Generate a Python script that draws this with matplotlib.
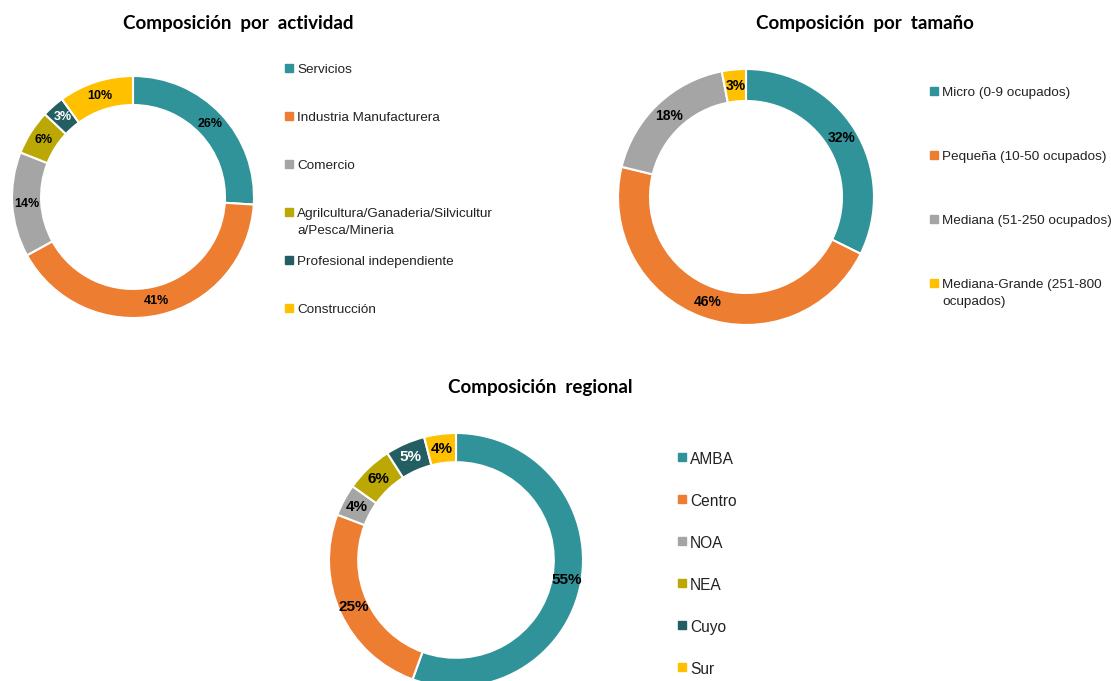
import numpy as np
import matplotlib
matplotlib.use("Agg")
import matplotlib.pyplot as plt
from matplotlib.lines import Line2D

# colours used by the three charts
teal = "#31939A"
orange = "#ED7D31"
gray = "#A5A5A5"
olive = "#BBA805"
dark_teal = "#235E62"
yellow = "#FFC000"

# composición por actividad
act_labels = ["Servicios", "Industria Manufacturera", "Comercio",
              "Agrilcultura/Ganaderia/Silvicultur\na/Pesca/Mineria",
              "Profesional independiente", "Construcción"]
act_values = [26, 41, 14, 6, 3, 10]
act_colors = [teal, orange, gray, olive, dark_teal, yellow]

# composición por tamaño
size_labels = ["Micro (0-9 ocupados)", "Pequeña (10-50 ocupados)",
               "Mediana (51-250 ocupados)", "Mediana-Grande (251-800\nocupados)"]
size_values = [32, 46, 18, 3]
size_colors = [teal, orange, gray, yellow]

# composición regional
reg_labels = ["AMBA", "Centro", "NOA", "NEA", "Cuyo", "Sur"]
reg_values = [55, 25, 4, 6, 5, 4]
reg_colors = [teal, orange, gray, olive, dark_teal, yellow]

W, H = 1111, 681
fig = plt.figure(figsize=(W / 100, H / 100), dpi=100)
fig.patch.set_facecolor("white")


def px_axes(cx, cy, r):
    # square axes of side 2r centred on pixel (cx, cy), measured from the top-left
    return fig.add_axes([(cx - r) / W, (H - cy - r) / H, 2 * r / W, 2 * r / H])


def donut(cx, cy, r, width, values, colors, pct_size):
    ax = px_axes(cx, cy, r)
    wedges, texts = ax.pie(values, colors=colors, startangle=90, counterclock=False,
                           radius=1, wedgeprops=dict(width=width, edgecolor="white", linewidth=1.5))
    mid = 1 - width / 2
    for w, v, c in zip(wedges, values, colors):
        ang = np.deg2rad((w.theta1 + w.theta2) / 2)
        tc = "white" if c == dark_teal else "black"
        ax.text(mid * np.cos(ang), mid * np.sin(ang), f"{v}%", ha="center", va="center",
                fontsize=pct_size, fontweight="bold", color=tc, family="Liberation Sans")
    ax.set_xlim(-1, 1)
    ax.set_ylim(-1, 1)
    ax.axis("off")
    return ax


def legend(x, y0, step, labels, colors, size):
    for i, (lab, c) in enumerate(zip(labels, colors)):
        y = y0 + i * step
        fig.add_artist(Line2D([x / W], [1 - y / H], marker="s", markersize=5.5,
                              color=c, linestyle="none"))
        fig.text((x + 8) / W, 1 - (y - size * 0.45) / H, lab, ha="left", va="top",
                 fontsize=size, family="Liberation Sans", color="#222222", linespacing=1.6)


def title(x, y, s):
    fig.text(x / W, 1 - y / H, s, ha="center", va="center", fontsize=13.5,
             fontweight="bold", family="Lato", color="black")


donut(133, 197, 121, 0.24, act_values, act_colors, 9)
title(238, 23, "Composición  por  actividad")
legend(289, 68, 48, act_labels, act_colors, 9.7)

donut(746, 197, 128, 0.25, size_values, size_colors, 10)
title(865, 23, "Composición  por  tamaño")
legend(934, 91, 64, size_labels, size_colors, 9.7)

donut(456, 560, 127, 0.23, reg_values, reg_colors, 11)
title(540, 387, "Composición  regional")
legend(682, 457, 42, reg_labels, reg_colors, 11.2)

fig.savefig("out.png", dpi=100)
